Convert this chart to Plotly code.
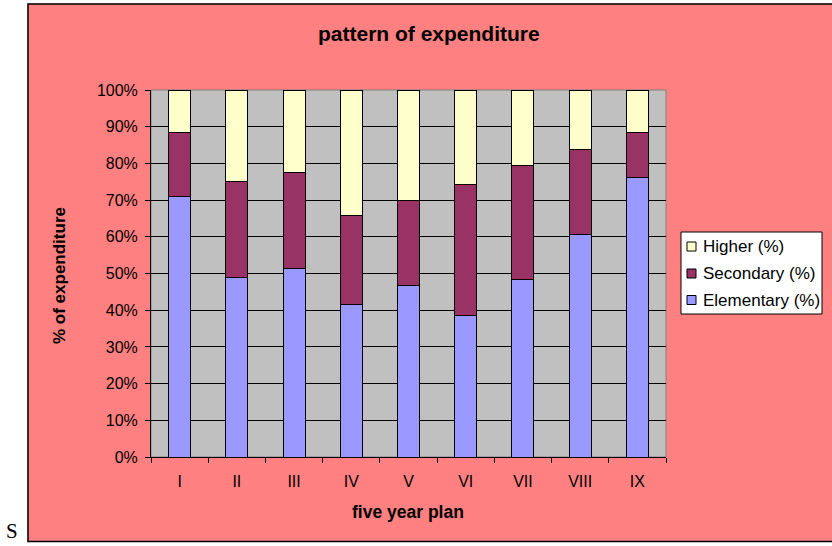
import plotly.graph_objects as go

# Five year plans and share of expenditure by level of education (%)
plans = ["I", "II", "III", "IV", "V", "VI", "VII", "VIII", "IX"]
elementary = [71.1, 48.8, 51.3, 41.5, 46.7, 38.6, 48.5, 60.5, 76.1]
secondary = [17.2, 26.2, 26.3, 24.4, 23.1, 35.7, 30.8, 23.4, 12.2]
higher = [11.7, 25.0, 22.4, 34.1, 30.2, 25.7, 20.7, 16.1, 11.7]

W, H = 832, 546
L, R, T, B = 151, 666, 90, 457  # plot area in pixels

SALMON = "#FF8080"
FONT = "Liberation Sans, Arial, sans-serif"


def px(p):
    return (p - L) / (R - L)


def py(q):
    return (B - q) / (B - T)


fig = go.Figure()
series = [
    ("Elementary (%)", elementary, "#9999FF"),
    ("Secondary (%)", secondary, "#993366"),
    ("Higher (%)", higher, "#FFFFCC"),
]
for name, vals, col in series:
    fig.add_trace(go.Bar(
        x=plans, y=vals, name=name, showlegend=False,
        marker=dict(color=col, line=dict(color="black", width=1)),
    ))

shapes = [
    # white page outside the chart frame
    dict(type="rect", xref="paper", yref="paper", x0=px(-5), x1=px(27.5),
         y0=py(-5), y1=py(551), fillcolor="white", line_width=0, layer="below"),
    dict(type="rect", xref="paper", yref="paper", x0=px(-5), x1=px(840),
         y0=py(-5), y1=py(3.5), fillcolor="white", line_width=0, layer="below"),
    dict(type="rect", xref="paper", yref="paper", x0=px(-5), x1=px(840),
         y0=py(542), y1=py(551), fillcolor="white", line_width=0, layer="below"),
    # chart frame
    dict(type="rect", xref="paper", yref="paper", x0=px(28), x1=px(836),
         y0=py(541.5), y1=py(4), line=dict(color="black", width=1.5)),
    # plot area border
    dict(type="rect", xref="x domain", yref="y domain", x0=0, x1=1, y0=0, y1=1,
         line=dict(color="#808080", width=1), layer="below"),
    # legend box
    dict(type="rect", xref="paper", yref="paper", x0=px(681), x1=px(822),
         y0=py(314), y1=py(232), fillcolor="white",
         line=dict(color="black", width=1)),
]

annotations = [
    dict(text="<b>pattern of expenditure</b>", xref="paper", yref="paper",
         x=px(429), y=py(34), xanchor="center", yanchor="middle",
         showarrow=False, font=dict(size=21, color="black", family=FONT)),
    dict(text="<b>five year plan</b>", xref="paper", yref="paper",
         x=px(408), y=py(512), xanchor="center", yanchor="middle",
         showarrow=False, font=dict(size=17.5, color="black", family=FONT)),
    dict(text="<b>% of expenditure</b>", xref="paper", yref="paper",
         x=px(59), y=py(276), xanchor="center", yanchor="middle", textangle=-90,
         showarrow=False, font=dict(size=17, color="black", family=FONT)),
    dict(text="S", xref="paper", yref="paper",
         x=px(12), y=py(531), xanchor="center", yanchor="middle",
         showarrow=False,
         font=dict(size=21, color="black", family="Liberation Serif, Times New Roman, serif")),
]

# legend entries, top to bottom: Higher, Secondary, Elementary
legend_rows = [(246.5, series[2]), (273.5, series[1]), (300, series[0])]
for yc, (name, _, col) in legend_rows:
    shapes.append(dict(
        type="rect", xref="paper", yref="paper",
        x0=px(687), x1=px(696), y0=py(yc + 4.5), y1=py(yc - 4.5),
        fillcolor=col, line=dict(color="black", width=1),
    ))
    annotations.append(dict(
        text=name, xref="paper", yref="paper", x=px(701), y=py(yc),
        xanchor="left", yanchor="middle", showarrow=False,
        font=dict(size=17, color="black", family=FONT),
    ))

fig.update_layout(
    width=W, height=H,
    margin=dict(l=L, r=W - R, t=T, b=H - B, pad=0),
    paper_bgcolor=SALMON,
    plot_bgcolor="#C0C0C0",
    barmode="stack",
    barnorm="percent",
    bargap=0.615,
    showlegend=False,
    font=dict(family=FONT, color="black", size=16),
    shapes=shapes,
    annotations=annotations,
    xaxis=dict(
        type="category", showline=True, linecolor="black", linewidth=1,
        ticks="outside", ticklen=5, tickcolor="black", tickson="boundaries",
        showgrid=False, tickfont=dict(size=16, color="black"),
        ticklabelstandoff=10,
    ),
    yaxis=dict(
        range=[0, 100], dtick=10, ticksuffix="%", showline=True,
        linecolor="black", linewidth=1, ticks="outside", ticklen=5,
        tickcolor="black", showgrid=True, gridcolor="black", gridwidth=1,
        zeroline=False, tickfont=dict(size=16, color="black"),
        ticklabelstandoff=4,
    ),
)

fig.write_html("out.html")
